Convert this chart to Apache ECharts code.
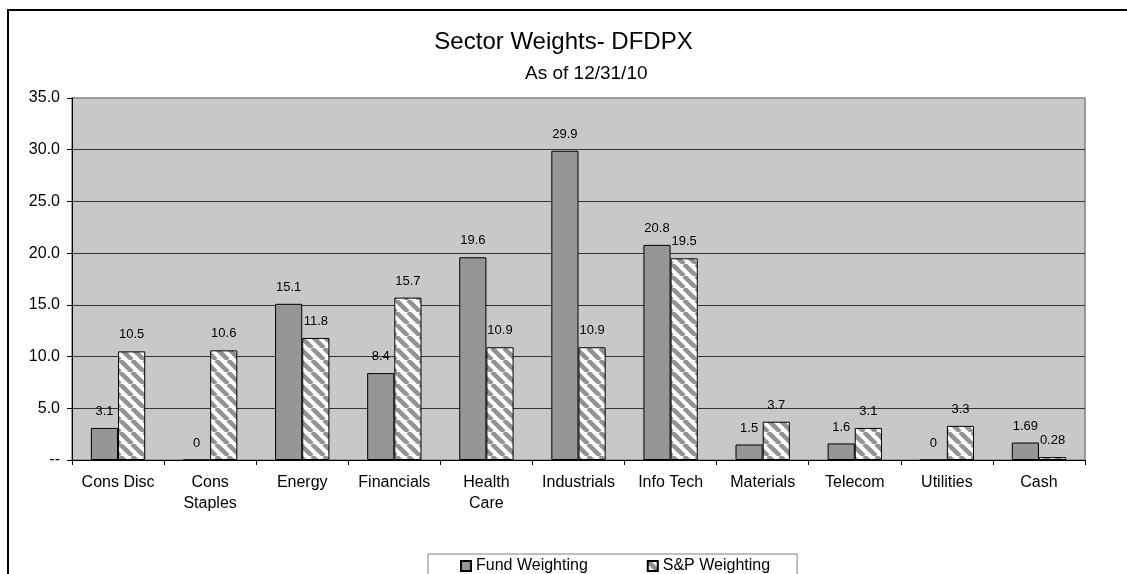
<!DOCTYPE html>
<html>
<head>
<meta charset="utf-8">
<title>Sector Weights- DFDPX</title>
<script src="https://cdn.jsdelivr.net/npm/echarts@6/dist/echarts.min.js"></script>
<style>
  html, body { margin: 0; padding: 0; background: #fff; }
  #chart { width: 1127px; height: 574px; }
</style>
</head>
<body>
<div id="chart"></div>
<script>
// data
var categories = ["Cons Disc", "Cons\nStaples", "Energy", "Financials", "Health\nCare",
  "Industrials", "Info Tech", "Materials", "Telecom", "Utilities", "Cash"];
var fundWeighting = [3.1, 0, 15.1, 8.4, 19.6, 29.9, 20.8, 1.5, 1.6, 0, 1.69];
var spWeighting = [10.5, 10.6, 11.8, 15.7, 10.9, 10.9, 19.5, 3.7, 3.1, 3.3, 0.28];
var yTicks = [0, 5, 10, 15, 20, 25, 30, 35];

var FONT = "Liberation Sans, Arial, sans-serif";

// white with grey diagonal stripes, like the excel hatch
function makeHatch() {
  var c = document.createElement("canvas");
  var s = 12;
  c.width = s;
  c.height = s;
  var ctx = c.getContext("2d");
  ctx.fillStyle = "#ffffff";
  ctx.fillRect(0, 0, s, s);
  ctx.strokeStyle = "#929292";
  ctx.lineWidth = 4.5;
  ctx.beginPath();
  for (var k = -s; k <= s; k += s) {
    ctx.moveTo(k, 0);
    ctx.lineTo(k + s, s);
  }
  ctx.stroke();
  return c;
}

var chart = echarts.init(document.getElementById("chart"));

// last split line (top of plot) is lighter grey
var splitColors = yTicks.map(function (v, i) {
  return i === yTicks.length - 1 ? "#999999" : "#333333";
});

var option = {
  backgroundColor: "#ffffff",
  animation: false,
  textStyle: { fontFamily: FONT },
  graphic: [
    {
      type: "rect",
      shape: { x: 8, y: 10, width: 1300, height: 700 },
      style: { fill: "none", stroke: "#000", lineWidth: 2 },
      silent: true
    }
  ],
  title: [
    {
      text: "Sector Weights- DFDPX",
      left: "center",
      top: 30,
      padding: 0,
      textStyle: { fontSize: 24, fontWeight: "normal", color: "#000", fontFamily: FONT }
    },
    {
      text: "As of 12/31/10",
      left: 525,
      top: 64,
      padding: 0,
      textStyle: { fontSize: 19, fontWeight: "normal", color: "#000", fontFamily: FONT }
    }
  ],
  legend: {
    data: ["Fund Weighting", "S&P Weighting"],
    left: 428,
    top: 554,
    orient: "horizontal",
    icon: "rect",
    itemWidth: 10,
    itemHeight: 10,
    itemGap: 59,
    padding: [4, 27, 8, 32],
    borderColor: "#808080",
    borderWidth: 1,
    textStyle: { fontSize: 16, color: "#000", fontFamily: FONT }
  },
  grid: {
    left: 72,
    right: 42,
    top: 98,
    bottom: 114,
    show: true,
    backgroundColor: "#c8c8c8",
    borderColor: "#808080",
    borderWidth: 1.5
  },
  xAxis: {
    type: "category",
    data: categories,
    axisLine: { show: true, lineStyle: { color: "#000", width: 1 } },
    axisTick: { show: true, length: 5, lineStyle: { color: "#000" } },
    axisLabel: {
      interval: 0,
      margin: 12,
      fontSize: 16,
      lineHeight: 21,
      color: "#000",
      fontFamily: FONT
    }
  },
  yAxis: {
    type: "value",
    min: 0,
    max: 35,
    interval: 5,
    axisLine: { show: true, lineStyle: { color: "#000", width: 1 } },
    axisTick: { show: true, length: 5, lineStyle: { color: "#000" } },
    splitLine: { show: true, lineStyle: { color: splitColors, width: 1 } },
    axisLabel: {
      margin: 12,
      fontSize: 16,
      color: "#000",
      fontFamily: FONT,
      formatter: function (v) {
        return v === 0 ? "--" : v.toFixed(1);
      }
    }
  },
  series: [
    {
      name: "Fund Weighting",
      type: "bar",
      data: fundWeighting,
      barGap: "0%",
      barCategoryGap: "41%",
      itemStyle: { color: "#969696", borderColor: "#000", borderWidth: 1 },
      label: {
        show: true,
        position: "top",
        distance: 10,
        fontSize: 13,
        color: "#000",
        fontFamily: FONT
      }
    },
    {
      name: "S&P Weighting",
      type: "bar",
      data: spWeighting,
      barGap: "0%",
      barCategoryGap: "41%",
      itemStyle: {
        color: { image: makeHatch(), repeat: "repeat" },
        borderColor: "#000",
        borderWidth: 1
      },
      label: {
        show: true,
        position: "top",
        distance: 10,
        fontSize: 13,
        color: "#000",
        fontFamily: FONT
      }
    }
  ]
};

chart.setOption(option);
window.addEventListener("resize", function () {
  chart.resize();
});
</script>
</body>
</html>
